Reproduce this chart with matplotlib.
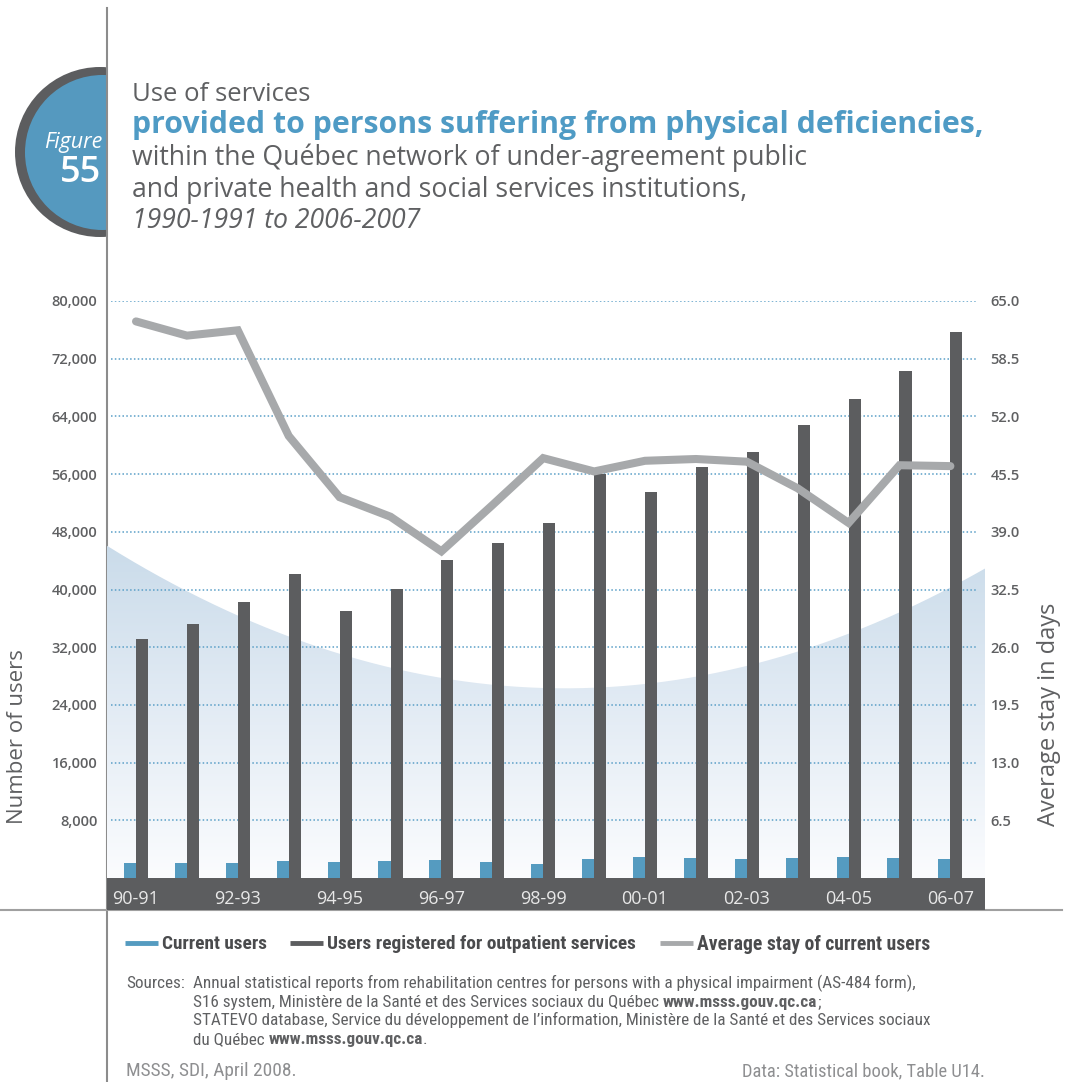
import numpy as np
import matplotlib
matplotlib.use("Agg")
import matplotlib.pyplot as plt
from matplotlib.patches import Circle, Rectangle, PathPatch
from matplotlib.path import Path
from matplotlib.colors import LinearSegmentedColormap

plt.rcParams['font.family'] = ['Open Sans', 'DejaVu Sans']

# Data
years = ['90-91', '91-92', '92-93', '93-94', '94-95', '95-96', '96-97', '97-98', '98-99',
         '99-00', '00-01', '01-02', '02-03', '03-04', '04-05', '05-06', '06-07']
current_users = [2030, 2030, 2030, 2310, 2170, 2310, 2450, 2170, 1900,
                 2590, 2860, 2720, 2590, 2720, 2860, 2720, 2590]
outpatient_users = [33150, 35200, 38300, 42200, 37000, 40100, 44100, 46500, 49200,
                    56000, 53500, 57000, 59100, 62800, 66400, 70300, 75700]
avg_stay = [62.7, 61.1, 61.7, 49.8, 42.9, 40.7, 36.8, 42.0, 47.3,
            45.8, 47.0, 47.2, 46.9, 43.9, 40.0, 46.5, 46.4]
left_ticks = list(range(8000, 80001, 8000))
right_ticks = [6.5, 13.0, 19.5, 26.0, 32.5, 39.0, 45.5, 52.0, 58.5, 65.0]

BLUE = '#559bc0'
DARK = '#5c5d5f'
LIGHT = '#a7a9ab'
TXT = '#5f6062'
TITLE_BLUE = '#4f9bc5'

W, H = 1066, 1082
fig = plt.figure(figsize=(W / 100, H / 100), dpi=100)
renderer = fig.canvas.get_renderer()

# background canvas in pixel coordinates
bg = fig.add_axes([0, 0, 1, 1])
bg.set_xlim(0, W)
bg.set_ylim(H, 0)
bg.axis('off')

# main axes
L, R, T, B = 107, 985, 301, 878
ax = fig.add_axes([L / W, 1 - B / H, (R - L) / W, (B - T) / H])
ax.set_zorder(2)
ax.patch.set_visible(False)
for s in ax.spines.values():
    s.set_visible(False)

x = np.arange(len(years))
bw = 0.236
ax.set_xlim(-0.57, 16.68)
ax.set_ylim(0, 80000)

# background curved gradient
xc = np.linspace(-0.57, 16.68, 200)
yc = 26300 + 244 * (xc - 8.43) ** 2
verts = [(xc[0], 0)] + list(zip(xc, yc)) + [(xc[-1], 0), (xc[0], 0)]
clip = PathPatch(Path(verts), transform=ax.transData, facecolor='none', edgecolor='none')
ax.add_patch(clip)
cmap = LinearSegmentedColormap.from_list('fade', ['#fbfcfe', '#e2ebf4', '#c8dae9'])
grad = np.linspace(0, 1, 256).reshape(-1, 1)
im = ax.imshow(grad, extent=[-0.57, 16.68, 0, 48000], origin='lower', aspect='auto',
               cmap=cmap, zorder=0.5)
im.set_clip_path(clip)

ax.hlines(left_ticks, -0.5, 16.5, colors='#5a9fc7', linestyles=(0, (1, 1.5)), lw=1.1, zorder=1)

ax.bar(x - bw / 2, current_users, bw, color=BLUE, zorder=2)
ax.bar(x + bw / 2, outpatient_users, bw, color=DARK, zorder=2)

ax.set_yticks(left_ticks)
ax.set_yticklabels([f'{v:,}' for v in left_ticks], color=TXT, fontsize=10.5, fontweight='semibold')
ax.tick_params(axis='y', length=0, pad=7)

ax.set_xticks(x[::2])
ax.set_xticklabels(years[::2], color='#e8e8e8', fontsize=13)
ax.tick_params(axis='x', length=0, pad=9)
ax.add_patch(Rectangle((0, -32 / (B - T)), 1, 32 / (B - T), transform=ax.transAxes,
                       facecolor=DARK, edgecolor='none', clip_on=False, zorder=0))

ax2 = ax.twinx()
ax2.set_zorder(3)
for s in ax2.spines.values():
    s.set_visible(False)
ax2.set_ylim(0, 65)
ax2.plot(x, avg_stay, color=LIGHT, lw=5.8, solid_capstyle='round', solid_joinstyle='miter')
ax2.set_yticks(right_ticks)
ax2.set_yticklabels([f'{v:.1f}' for v in right_ticks], color=TXT, fontsize=10.5, fontweight='semibold')
ax2.tick_params(axis='y', length=0, pad=4)

# frame lines
bg.plot([L, L], [8, H], color='#8c8c8c', lw=1.5)
bg.plot([0, 1062], [910, 910], color='#a0a0a0', lw=1.5)

# figure badge
cl = Rectangle((0, 0), L, H, transform=bg.transData)
c1 = Circle((100, 152), 85, facecolor='#5c5d5f', edgecolor='none')
c2 = Circle((102.5, 152.5), 77.5, facecolor='#5599bf', edgecolor='none')
for c in (c1, c2):
    bg.add_patch(c)
    c.set_clip_path(cl)
bg.text(102, 148, 'Figure', color='white', fontsize=15.5, style='italic', ha='right', va='baseline')
bg.text(101, 182, '55', color='white', fontsize=26, fontweight='semibold', ha='right', va='baseline')

# titles
bg.text(132, 101, 'Use of services', color=TXT, fontsize=18.5, va='baseline')
bg.text(132, 133, 'provided to persons suffering from physical deficiencies,', color=TITLE_BLUE,
        fontsize=21.8, fontweight='bold', va='baseline')
bg.text(132, 165, 'within the Québec network of under-agreement public', color=TXT, fontsize=19.2, va='baseline')
bg.text(132, 197, 'and private health and social services institutions,', color=TXT, fontsize=19.2, va='baseline')
bg.text(132, 228, '1990-1991 to 2006-2007', color=TXT, fontsize=19.2, style='italic', va='baseline')

# axis titles
bg.text(18, 737, 'Number of users', color=TXT, fontsize=16, rotation=90, ha='center', va='center')
bg.text(1049, 714, 'Average stay in days', color=TXT, fontsize=17, rotation=90, ha='center', va='center')

narrow = ['Roboto Condensed', 'Liberation Sans Narrow', 'DejaVu Sans']


def fit_text(xx, yy, txt, target, size, **kw):
    # shrink/grow the font so the text spans the width seen in the reference
    t = bg.text(xx, yy, txt, fontsize=size, family=narrow, fontstretch='condensed', **kw)
    w = t.get_window_extent(renderer).width
    t.set_fontsize(size * target / w)
    return t


# legend
legend_items = [(125, BLUE, 'Current users', 105),
                (290, DARK, 'Users registered for outpatient services', 310),
                (660, LIGHT, 'Average stay of current users', 232)]
for lx, col, lab, tw in legend_items:
    bg.plot([lx, lx + 33], [943, 943], color=col, lw=3.5, solid_capstyle='butt')
    fit_text(lx + 37, 944, lab, tw, 13.5, color='#4a4b4d', fontweight='bold', ha='left', va='center')

# sources
first = fit_text(193, 988, 'Annual statistical reports from rehabilitation centres for persons '
                 'with a physical impairment (AS-484 form),', 729, 10.5, color=TXT, va='baseline')
src_size = first.get_fontsize()


def rich_line(x0, y0, parts):
    xx = x0
    for txt, bold in parts:
        t = bg.text(xx, y0, txt, color=TXT, fontsize=src_size, family=narrow, fontstretch='condensed',
                    fontweight='bold' if bold else 'normal', va='baseline')
        xx += t.get_window_extent(renderer).width


bg.text(126, 988, 'Sources:', color=TXT, fontsize=src_size, family=narrow, fontstretch='condensed',
        va='baseline')
rich_line(193, 1007, [('S16 system, Ministère de la Santé et des Services sociaux du Québec ', False),
                      ('www.msss.gouv.qc.ca', True), (';', False)])
rich_line(193, 1025, [('STATEVO database, Service du développement de l\u2019information, '
                       'Ministère de la Santé et des Services sociaux', False)])
rich_line(193, 1044, [('du Québec ', False), ('www.msss.gouv.qc.ca', True), ('.', False)])

fit_text(126, 1076, 'MSSS, SDI, April 2008.', 171, 11, color='#8e8f91', va='baseline')
fit_text(985, 1076, 'Data: Statistical book, Table U14.', 242, 11, color='#8e8f91',
         ha='right', va='baseline')

fig.savefig('out.png', dpi=100)
